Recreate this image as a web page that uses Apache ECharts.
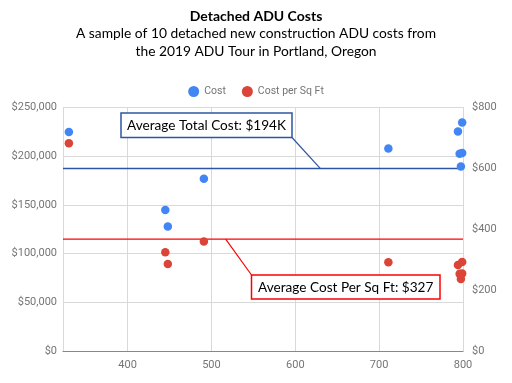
<!DOCTYPE html>
<html>
<head>
<meta charset="utf-8">
<script src="https://cdn.jsdelivr.net/npm/echarts@6/dist/echarts.min.js"></script>
<style>
html,body{margin:0;padding:0;background:#fff;}
#c{width:512px;height:383px;}
</style>
</head>
<body>
<div id="c"></div>
<script>
// ---- data ----
var sqFt = [330, 445, 448, 491, 711, 799, 794, 796, 799, 797.5];
var cost = [224400, 144600, 127900, 176650, 207650, 234250, 225050, 202200, 202950, 189250];
var costPerSqFt = [681, 325, 286, 360, 292, 293, 283, 254, 255, 237];
var seriesNames = ['Cost', 'Cost per Sq Ft'];
var avgLineValues = [187000, 115000]; // drawn on left axis, as in the reference
var avgLabels = ['Average Total Cost: $194K', 'Average Cost Per Sq Ft: $327'];
var xRange = [323, 800];
var titleText = 'Detached ADU Costs';
var subtitleText = 'A sample of 10 detached new construction ADU costs from\nthe 2019 ADU Tour in Portland, Oregon';

var costData = sqFt.map(function (x, i) { return [x, cost[i]]; });
var perData = sqFt.map(function (x, i) { return [x, costPerSqFt[i]]; });

var chart = echarts.init(document.getElementById('c'));
var gray = '#757575';
var blueLine = '#2e55a3';
var redLine = '#ff0000';
function avgLine(v, color, w) {
  return {
    type: 'line', yAxisIndex: 0, silent: true, showSymbol: false, symbol: 'none',
    lineStyle: { color: color, width: w }, itemStyle: { color: color },
    data: [[xRange[0], v], [xRange[1], v]], z: 3
  };
}
var option = {
  animation: false,
  title: {
    text: titleText,
    subtext: subtitleText,
    left: 'center',
    top: 4,
    itemGap: 2,
    textStyle: { fontFamily: 'Lato', fontWeight: 'bold', fontSize: 14, color: '#000' },
    subtextStyle: { fontFamily: 'Lato', fontSize: 13.8, color: '#000', lineHeight: 17.5 }
  },
  legend: {
    top: 81,
    left: 'center',
    itemWidth: 11,
    itemHeight: 11,
    itemGap: 16,
    icon: 'circle',
    textStyle: { fontFamily: 'Roboto', fontSize: 10.5, color: gray },
    data: seriesNames
  },
  grid: { left: 63, right: 49, top: 107, bottom: 31.5 },
  xAxis: {
    type: 'value',
    min: xRange[0],
    max: xRange[1],
    splitNumber: 5,
    axisLine: { lineStyle: { color: '#888', width: 1 } },
    axisTick: { show: false },
    axisLabel: { showMinLabel: false, color: gray, fontFamily: 'Roboto', fontSize: 11, margin: 8 },
    splitLine: { lineStyle: { color: '#d9d9d9' } }
  },
  yAxis: [{
    type: 'value',
    min: 0, max: 250000, interval: 50000,
    axisLine: { show: false },
    axisTick: { show: false },
    axisLabel: {
      color: gray, fontFamily: 'Roboto', fontSize: 11, margin: 6,
      formatter: function (v) { return '$' + v.toLocaleString('en-US'); }
    },
    splitLine: { lineStyle: { color: '#d9d9d9' } }
  }, {
    type: 'value',
    min: 0, max: 800, interval: 200,
    axisLine: { show: false },
    axisTick: { show: false },
    axisLabel: {
      color: gray, fontFamily: 'Roboto', fontSize: 11, margin: 9,
      formatter: function (v) { return '$' + v; }
    },
    splitLine: { show: false }
  }],
  series: [{
    name: seriesNames[0],
    type: 'scatter',
    yAxisIndex: 0,
    symbolSize: 8.5,
    itemStyle: { color: '#4285f4', opacity: 1 },
    data: costData,
    z: 5
  }, {
    name: seriesNames[1],
    type: 'scatter',
    yAxisIndex: 1,
    symbolSize: 8.5,
    itemStyle: { color: '#db4437', opacity: 1 },
    data: perData,
    z: 5
  },
  avgLine(avgLineValues[0], blueLine, 1.5),
  avgLine(avgLineValues[1], redLine, 1.2)
  ]
};
chart.setOption(option);

// annotation call-outs
var bluePt = chart.convertToPixel({ xAxisIndex: 0, yAxisIndex: 0 }, [630, avgLineValues[0]]);
var redPt = chart.convertToPixel({ xAxisIndex: 0, yAxisIndex: 0 }, [517, avgLineValues[1]]);
chart.setOption({
  graphic: [
    { type: 'line', shape: { x1: 292, y1: 137.5, x2: bluePt[0], y2: bluePt[1] }, style: { stroke: blueLine, lineWidth: 1.2 }, z: 10 },
    { type: 'rect', shape: { x: 121, y: 113, width: 171, height: 24.5 }, style: { fill: '#fff', stroke: blueLine, lineWidth: 1.5 }, z: 10 },
    { type: 'text', x: 206.5, y: 126, style: { text: avgLabels[0], fontFamily: 'Lato', fontSize: 13.6, fill: '#000', align: 'center', verticalAlign: 'middle' }, z: 11 },
    { type: 'line', shape: { x1: redPt[0], y1: redPt[1], x2: 251.5, y2: 275 }, style: { stroke: redLine, lineWidth: 1.2 }, z: 10 },
    { type: 'rect', shape: { x: 251.5, y: 275, width: 188.5, height: 24 }, style: { fill: '#fff', stroke: redLine, lineWidth: 1.5 }, z: 10 },
    { type: 'text', x: 345.75, y: 287.5, style: { text: avgLabels[1], fontFamily: 'Lato', fontSize: 13.6, fill: '#000', align: 'center', verticalAlign: 'middle' }, z: 11 }
  ]
});
</script>
</body>
</html>
